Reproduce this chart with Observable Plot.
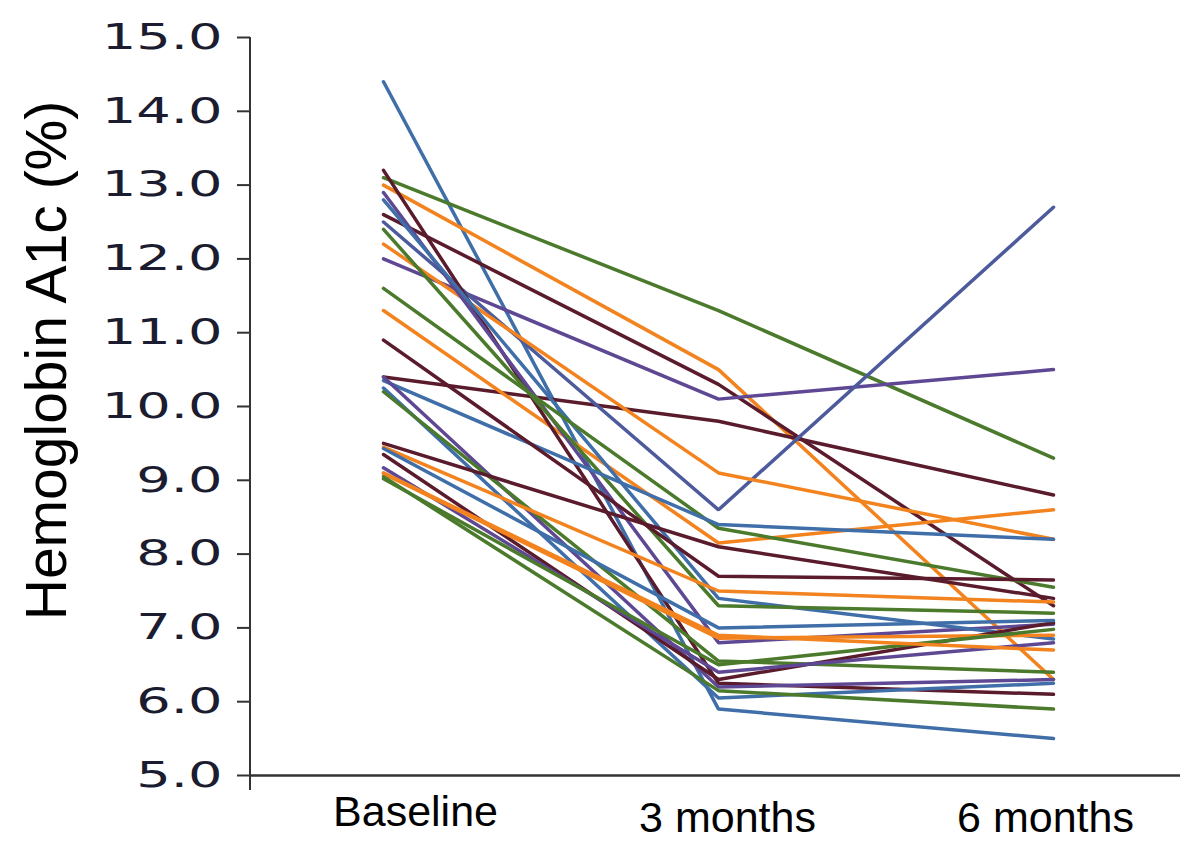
<!DOCTYPE html>
<html>
<head>
<meta charset="utf-8">
<script src="https://cdn.jsdelivr.net/npm/d3@7"></script>
<script src="https://cdn.jsdelivr.net/npm/@observablehq/plot@0.6"></script>
<style>
  html, body { margin: 0; padding: 0; background: #ffffff; }
  #chart { width: 1200px; height: 852px; }
</style>
</head>
<body>
<div id="chart"></div>
<script>
// ---- data ----
const categories = ["Baseline", "3 months", "6 months"];
const yTicks = [5, 6, 7, 8, 9, 10, 11, 12, 13, 14, 15];
const yTitle = "Hemoglobin A1c (%)";

const seriesGroup = [
  "blue", "green", "orange", "maroon", "purple", "maroon", "slate", "orange",
  "orange", "maroon", "purple", "blue", "green", "green", "blue", "maroon",
  "purple", "blue", "green", "maroon", "orange", "maroon", "purple", "blue",
  "orange", "green", "green", "orange"
];
const baselineValues = [
  14.4, 13.1, 13.0, 12.6, 12.0, 10.4, 12.5, 12.2,
  11.3, 13.2, 12.9, 12.8, 12.4, 11.6, 10.35, 10.9,
  10.4, 10.25, 10.2, 9.5, 9.45, 9.35, 9.17, 9.43,
  9.09, 9.02, 9.05, 9.1
];
const month3Values = [
  5.9, 11.3, 10.5, 10.3, 10.1, 9.8, 8.6, 9.1,
  8.15, 6.25, 6.8, 7.4, 7.3, 8.35, 8.4, 7.7,
  6.2, 6.05, 6.55, 8.1, 7.5, 6.3, 6.4, 7.0,
  6.86, 6.5, 6.15, 6.9
];
const month6Values = [
  5.5, 9.3, 6.3, 7.3, 10.5, 8.8, 12.7, 8.2,
  8.6, 6.1, 7.05, 6.85, 7.2, 7.55, 8.2, 7.65,
  6.3, 6.25, 6.4, 7.4, 7.35, 7.07, 6.8, 7.1,
  6.9, 6.98, 5.9, 6.7
];
const groupNames = ["blue", "green", "orange", "purple", "maroon", "slate"];
const groupColors = ["#3F6EA8", "#4B7A2C", "#F2831F", "#5E4893", "#5A1B2C", "#4D5A9C"];

// ---- build table ----
const rows = [];
baselineValues.forEach((b, i) => {
  [b, month3Values[i], month6Values[i]].forEach((v, j) => {
    rows.push({id: i, group: seriesGroup[i], time: categories[j], value: v});
  });
});

const labelDx = [32, 9, -8];
const labelDy = [50, 56, 56];

const chart = Plot.plot({
  width: 1200,
  height: 852,
  marginLeft: 250,
  marginRight: 20,
  marginTop: 37,
  marginBottom: 77,
  style: {background: "#ffffff", overflow: "visible"},
  x: {type: "point", domain: categories, range: [383, 1053], padding: 0, axis: null},
  y: {domain: [5, 15], axis: null},
  color: {domain: groupNames, range: groupColors},
  marks: [
    Plot.line(rows, {x: "time", y: "value", z: "id", stroke: "group", strokeWidth: 3.5, strokeLinejoin: "miter", curve: "linear"}),
    Plot.axisY({
      ticks: yTicks,
      tickSize: 13,
      tickPadding: 15,
      tickFormat: d => d.toFixed(1),
      fontSize: 35,
      fontFamily: "DejaVu Sans",
      fill: "#1c1c30",
      stroke: "#333333",
      strokeWidth: 2,
      label: null
    }),
    Plot.ruleY([5], {stroke: "#333333", strokeWidth: 2.5}),
    ...categories.map((c, i) => Plot.text([c], {
      x: d => d,
      frameAnchor: "bottom",
      dx: labelDx[i],
      dy: labelDy[i],
      fontSize: 43,
      fontFamily: "Liberation Sans",
      fill: "#000000"
    })),
    Plot.text([yTitle], {
      frameAnchor: "left",
      textAnchor: "middle",
      dx: -203,
      dy: -46,
      rotate: -90,
      fontSize: 57,
      fontFamily: "Liberation Sans",
      fill: "#000000"
    })
  ]
});

document.getElementById("chart").appendChild(chart);

// vertical y axis line
const ys = chart.scale("y");
d3.select(chart).append("line")
  .attr("x1", 250).attr("x2", 250)
  .attr("y1", ys.apply(15)).attr("y2", ys.apply(5) + 15)
  .attr("stroke", "#333333").attr("stroke-width", 2);

// widen the y tick labels like the original
d3.select(chart).selectAll('g[aria-label="y-axis tick label"] text').each(function() {
  const t = d3.select(this);
  const tr = t.attr("transform");
  if (tr && tr.includes("translate")) {
    t.attr("transform", tr + " scale(1.55,1)");
  } else {
    const x = +t.attr("x") || 0, y = +t.attr("y") || 0;
    t.attr("x", null).attr("y", null).attr("transform", `translate(${x},${y}) scale(1.55,1)`);
  }
});
</script>
</body>
</html>
